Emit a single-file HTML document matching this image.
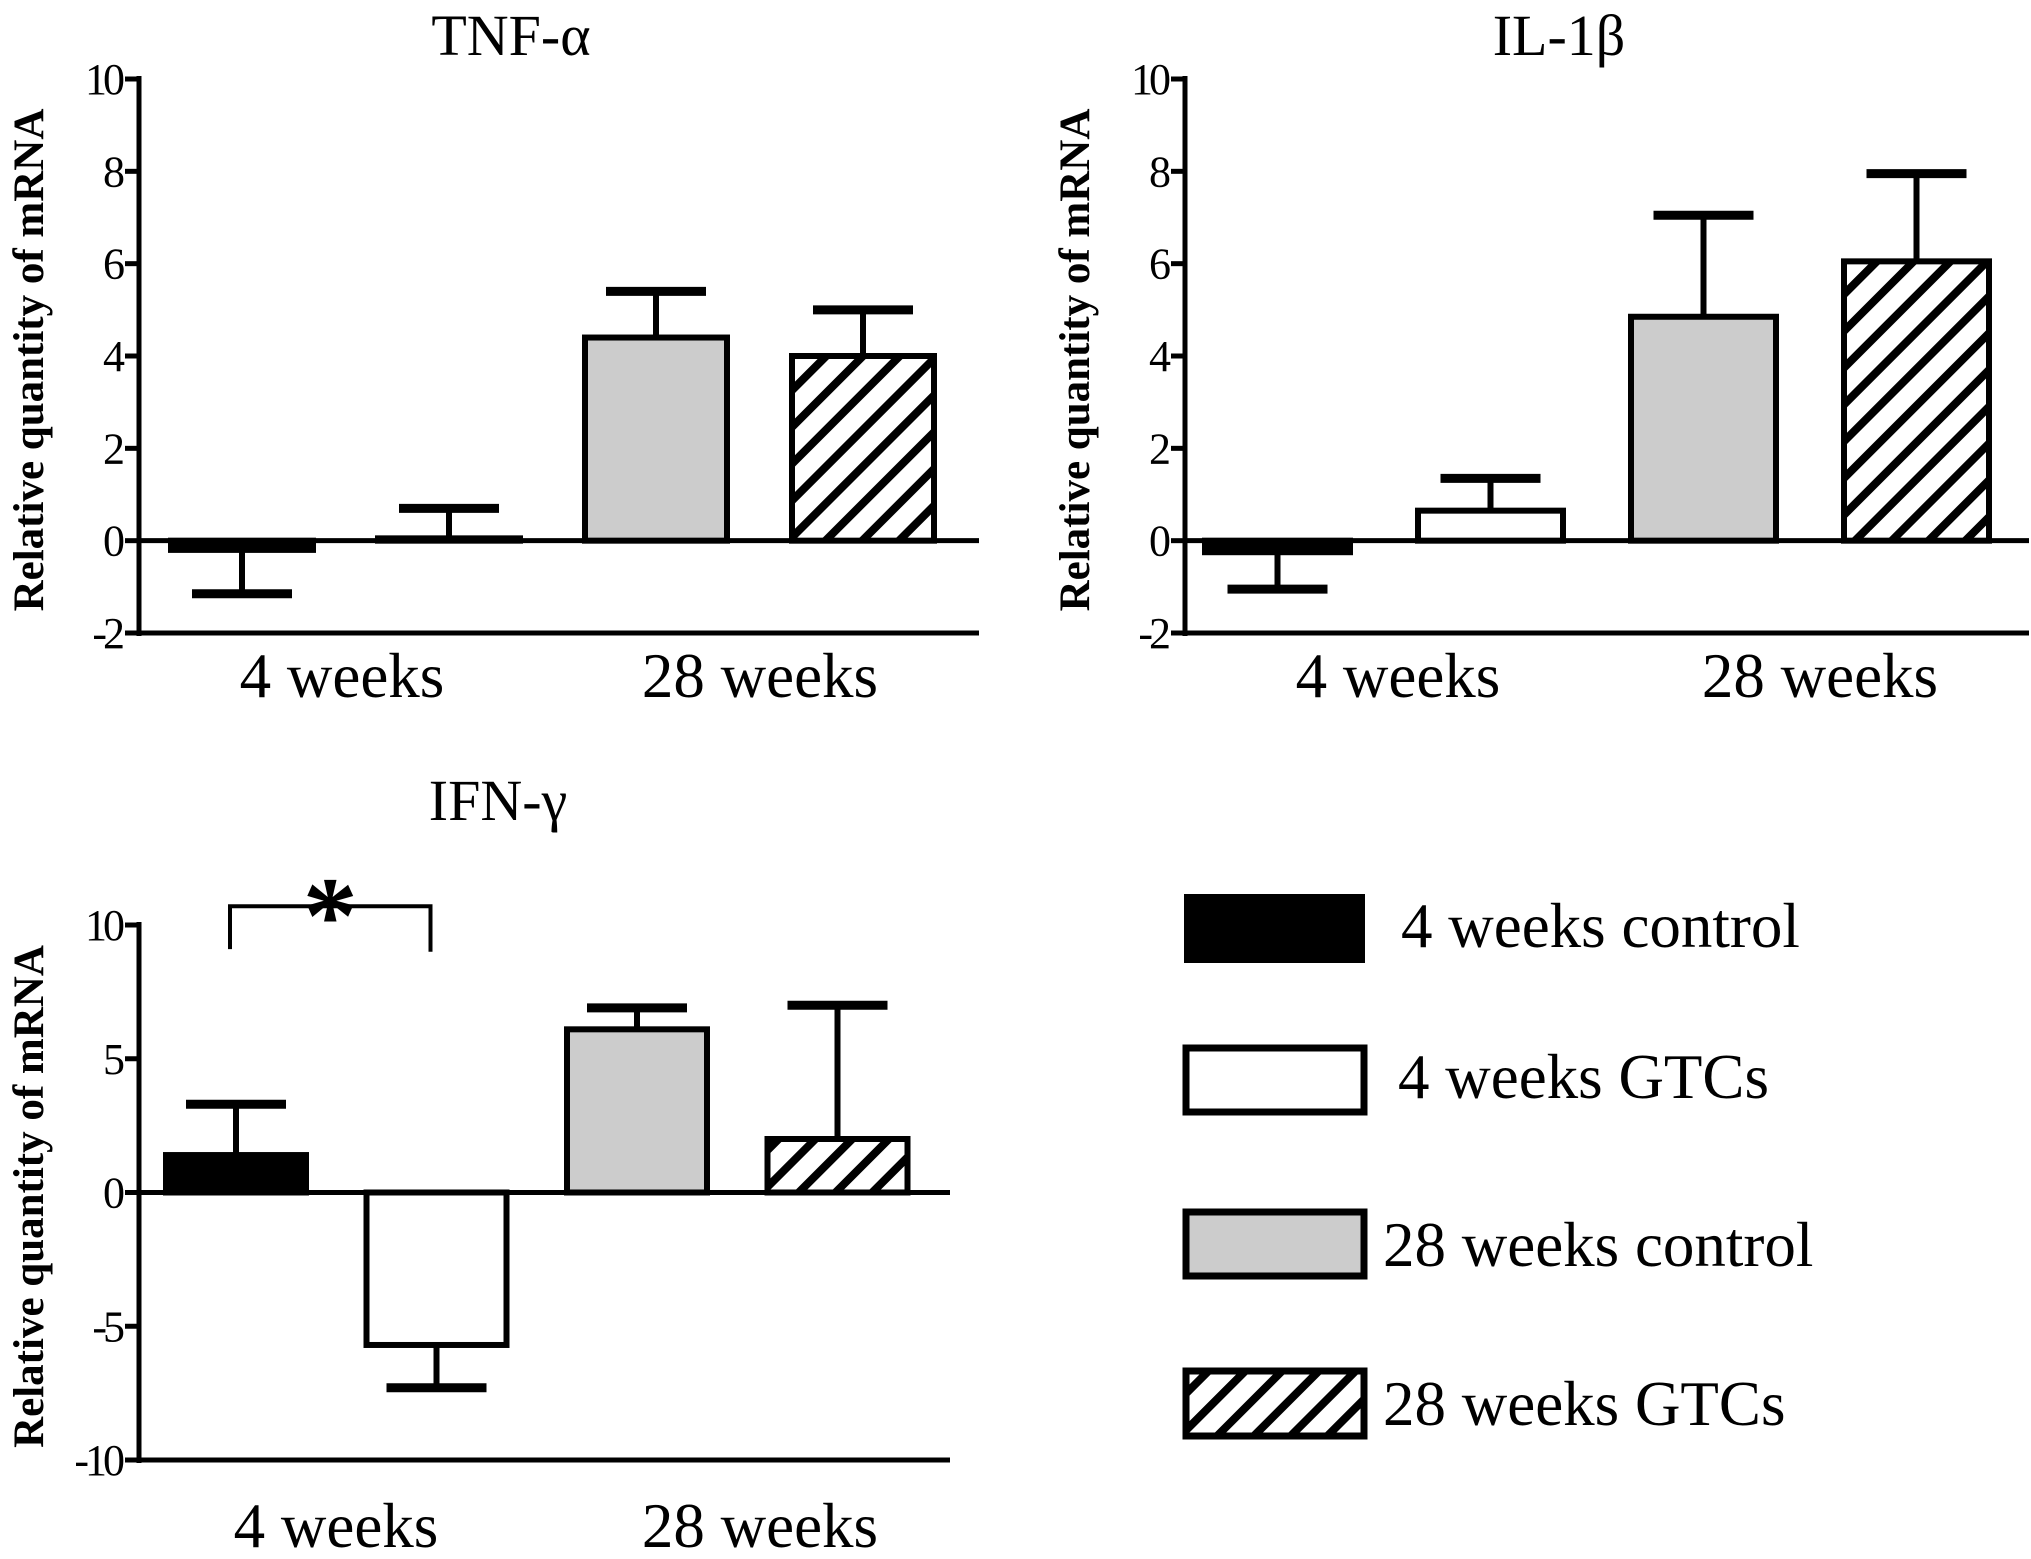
<!DOCTYPE html>
<html><head><meta charset="utf-8"><style>
html,body{margin:0;padding:0;background:#fff;}
svg{display:block;}
text{font-family:"Liberation Serif","Times New Roman",serif;fill:#000;}
</style></head><body>
<svg id="c" width="2031" height="1559" viewBox="0 0 2031 1559" xmlns="http://www.w3.org/2000/svg">
<defs>
<pattern id="hatch" patternUnits="userSpaceOnUse" width="26" height="26" patternTransform="rotate(45)">
<rect width="26" height="26" fill="#fff"/>
<rect x="0" y="0" width="8" height="26" fill="#000"/>
</pattern>
</defs>
<g>
<rect x="1187" y="897" width="175" height="63" fill="#000" stroke="#000" stroke-width="6"/>
<text x="1401" y="947" font-size="63">4 weeks control</text>
<rect x="1186" y="1048" width="178" height="64" fill="#fff" stroke="#000" stroke-width="7"/>
<text x="1398" y="1098" font-size="63">4 weeks GTCs</text>
<rect x="1186" y="1212" width="178" height="64" fill="#ccc" stroke="#000" stroke-width="7"/>
<text x="1383" y="1266" font-size="63">28 weeks control</text>
<rect x="1186" y="1371" width="178" height="65" fill="url(#hatch)" stroke="#000" stroke-width="7"/>
<text x="1383" y="1425" font-size="63">28 weeks GTCs</text>
</g>
</svg>
<script>
const groups = ["4 weeks control","4 weeks GTCs","28 weeks control","28 weeks GTCs"];
const categories = ["4 weeks","28 weeks"];
const tnfValues = [-0.2, 0.05, 4.4, 4.0];
const tnfErrors = [-1.15, 0.7, 5.4, 5.0];
const il1Values = [-0.25, 0.65, 4.85, 6.05];
const il1Errors = [-1.05, 1.35, 7.05, 7.95];
const ifnValues = [1.4, -5.7, 6.1, 2.0];
const ifnErrors = [3.3, -7.3, 6.9, 7.0];
const tnfTicks = [-2, 0, 2, 4, 6, 8, 10];
const il1Ticks = [-2, 0, 2, 4, 6, 8, 10];
const ifnTicks = [-10, -5, 0, 5, 10];

const fills = ["#000","#fff","#ccc","url(#hatch)"];
const NS = "http://www.w3.org/2000/svg";
const svg = document.getElementById('c');
function mk(tag, attrs, parent){
  const e = document.createElementNS(NS, tag);
  for (const k in attrs) e.setAttribute(k, attrs[k]);
  (parent||svg).appendChild(e);
  return e;
}
const panels = [
  {id:'tnf', title:'TNF-α', vals:tnfValues, errs:tnfErrors, ticks:tnfTicks, ax:139, x0:171, pitch:207, bw:142, yTop:79, yBot:633, xEnd:979, titleX:511, titleY:55, catY:697, catX:[342,760]},
  {id:'il1b', title:'IL-1β', vals:il1Values, errs:il1Errors, ticks:il1Ticks, ax:1185, x0:1205, pitch:213, bw:145, yTop:79, yBot:633, xEnd:2029, titleX:1559, titleY:55, catY:697, catX:[1398,1820]},
  {id:'ifn', title:'IFN-γ', vals:ifnValues, errs:ifnErrors, ticks:ifnTicks, ax:139, x0:166, pitch:200.5, bw:140, yTop:925, yBot:1460, xEnd:950, titleX:498, titleY:820, catY:1547, catX:[336,760]}
];
panels.forEach(p => {
  const g = mk('g', {});
  
  
  const tmin = p.ticks[0], tmax = p.ticks[p.ticks.length-1];
  const y = v => p.yBot - (v - tmin) / (tmax - tmin) * (p.yBot - p.yTop);
  const xb = i => p.x0 + i * p.pitch;
  const t = mk('text', {x:p.titleX, y:p.titleY, 'font-size':58, 'text-anchor':'middle'}, g);
  t.textContent = p.title;
  
  
  const yt = mk('text', {x:0, y:0, 'font-size':43, 'font-weight':'bold', 'text-anchor':'middle', transform:`translate(${p.ax-96},${(p.yTop+p.yBot)/2+4}) rotate(-90)`}, g);
  yt.textContent = 'Relative quantity of mRNA';
  
  
  p.vals.forEach((v, i) => {
    const x = xb(i);
    const cx = x + p.bw/2;
    const ey = y(p.errs[i]);
    const ebase = y(v);
    const wl = mk('line', {x1:cx, x2:cx, y1:ebase, y2:ey, stroke:'#000', 'stroke-width':6}, g);
    
    
    const cap = mk('line', {x1:cx-50, x2:cx+50, y1:ey, y2:ey, stroke:'#000', 'stroke-width':9}, g);
    
    
    const y0 = y(0), yv = y(v);
    const r = mk('rect', {x:x, y:Math.min(y0,yv), width:p.bw, height:Math.max(Math.abs(y0-yv),1), fill:fills[i], stroke:'#000', 'stroke-width':6}, g);
    
    
  });
  const ya = mk('line', {x1:p.ax, x2:p.ax, y1:p.yTop-3, y2:p.yBot+3, stroke:'#000', 'stroke-width':5}, g);
  
  
  const xa = mk('line', {x1:p.ax-14, x2:p.xEnd, y1:p.yBot, y2:p.yBot, stroke:'#000', 'stroke-width':5}, g);
  
  
  const zl = mk('line', {x1:p.ax, x2:p.xEnd, y1:y(0), y2:y(0), stroke:'#000', 'stroke-width':5}, g);
  
  
  p.ticks.forEach(tv => {
    const tl = mk('line', {x1:p.ax-14, x2:p.ax, y1:y(tv), y2:y(tv), stroke:'#000', 'stroke-width':5}, g);
    
    
    const lb = mk('text', {x:p.ax-18, y:y(tv)+15, 'font-size':44, 'text-anchor':'end', 'letter-spacing':-4}, g);
    lb.textContent = String(tv);
    
    
  });
  categories.forEach((c, i) => {
    const ct = mk('text', {x:p.catX[i], y:p.catY, 'font-size':63, 'text-anchor':'middle'}, g);
    ct.textContent = c;
    
    
  });
  if (p.id === 'ifn') {
    const c0 = xb(0) + p.bw/2 - 2, c1 = xb(1) + p.bw/2 - 2;
    const br = mk('path', {d:`M${c0-4},${y(9.1)} L${c0-4},${y(10.7)} L${c1-4},${y(10.7)} L${c1-4},${y(9.0)}`, fill:'none', stroke:'#000', 'stroke-width':4}, g);
    
    
    const st = mk('text', {x:(c0+c1)/2-4, y:y(10.7)+46, 'font-size':110, 'text-anchor':'middle', 'font-weight':'bold'}, g);
    st.textContent = '*';
    
    
  }
});
</script>
</body></html>
